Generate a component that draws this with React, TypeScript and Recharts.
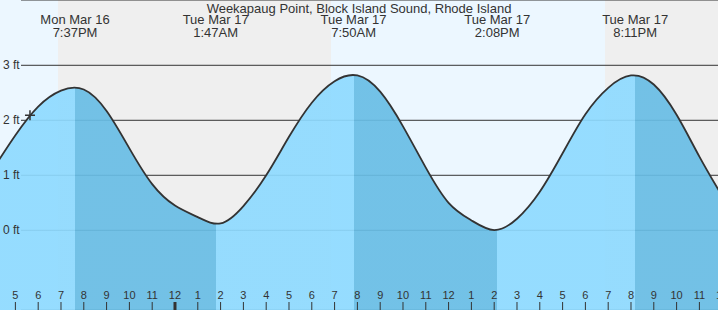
import {
  AreaChart,
  Area,
  XAxis,
  YAxis,
  CartesianGrid,
  ReferenceArea,
  ReferenceLine,
  ReferenceDot,
} from "recharts";

const W = 718;
const H = 310;
const FONT = "'Liberation Sans', Arial, sans-serif";

const COLORS = {
  ink: "#333",
  day: "#ecf7ff",
  night: "#efefef",
  rising: "#8edaff",
  falling: "#68bde5",
};

const TITLE = "Weekapaug Point, Block Island Sound, Rhode Island";

// hourly predictions, hours counted from Mon Mar 16 00:00
const TIDE_HOURS = [
  16, 17, 18, 19, 20, 21, 22, 23, 24, 25, 26,
  27, 28, 29, 30, 31, 32, 33, 34, 35, 36, 37,
  38, 39, 40, 41, 42, 43, 44, 45, 46, 47, 48,
];
const TIDE_FT = [
  1.1, 1.73, 2.25, 2.54, 2.56, 2.17, 1.49, 0.84, 0.45, 0.24, 0.125,
  0.44, 1.0, 1.7, 2.32, 2.71, 2.815, 2.52, 1.89, 1.14, 0.5, 0.18,
  0.005, 0.21, 0.7, 1.4, 2.11, 2.59, 2.815, 2.65, 2.1, 1.34, 0.62,
];

// high / low tide events (first one is a high)
const EVENT_HOURS = [19.617, 25.783, 31.833, 38.133, 44.183];
const EVENT_DAYS = ["Mon Mar 16", "Tue Mar 17", "Tue Mar 17", "Tue Mar 17", "Tue Mar 17"];
const EVENT_TIMES = ["7:37PM", "1:47AM", "7:50AM", "2:08PM", "8:11PM"];

const SUNSET_MON = 18.87;
const SUNRISE_TUE = 30.84;
const SUNSET_TUE = 42.86;

const NOW_HOUR = 17.64;
const NOW_FT = 2.09;

const X_DOMAIN: [number, number] = [16.325, 47.816];
const Y_DOMAIN: [number, number] = [-1.449, 4.187];
const FT_TICKS = [0, 1, 2, 3];
const HOUR_TICKS = [
  17, 18, 19, 20, 21, 22, 23, 24, 25, 26, 27, 28, 29, 30, 31, 32,
  33, 34, 35, 36, 37, 38, 39, 40, 41, 42, 43, 44, 45, 46, 47, 48,
];

const data = TIDE_HOURS.map((t, i) => ({ t, ft: TIDE_FT[i] }));

// hard-edged gradient: light while the tide rises, darker while it falls
function fillStops() {
  const t0 = TIDE_HOURS[0];
  const t1 = TIDE_HOURS[TIDE_HOURS.length - 1];
  const cuts = [0, ...EVENT_HOURS.map((h) => (h - t0) / (t1 - t0)), 1];
  const stops: JSX.Element[] = [];
  for (let i = 0; i < cuts.length - 1; i++) {
    const c = i % 2 === 0 ? COLORS.rising : COLORS.falling;
    stops.push(<stop key={`a${i}`} offset={cuts[i]} stopColor={c} stopOpacity={0.92} />);
    stops.push(<stop key={`b${i}`} offset={cuts[i + 1]} stopColor={c} stopOpacity={0.92} />);
  }
  return stops;
}

function HourTick({ x, payload }: any) {
  const h = payload.value as number;
  const label = h % 12 === 0 ? 12 : h % 12;
  const midnight = h % 24 === 0;
  return (
    <g>
      <text x={x} y={H - 11} textAnchor="middle" fontSize={11} fontFamily={FONT} fill={COLORS.ink}>
        {label}
      </text>
      <line x1={x} x2={x} y1={H - 8} y2={H} stroke={COLORS.ink} strokeWidth={midnight ? 3 : 1} />
    </g>
  );
}

function FtTick({ y, payload }: any) {
  return (
    <text x={3} y={y} dy={4} fontSize={12} fontFamily={FONT} fill={COLORS.ink}>
      {payload.value} ft
    </text>
  );
}

function EventLabel({ viewBox, day, time }: any) {
  const x = viewBox.x;
  return (
    <g fontFamily={FONT} fontSize={13} fill={COLORS.ink} textAnchor="middle">
      <text x={x} y={24}>{day}</text>
      <text x={x} y={36.5}>{time}</text>
    </g>
  );
}

function GridLine(p: any) {
  return <line key={p.key} x1={p.x1 + 21} x2={p.x2} y1={p.y1} y2={p.y2} stroke={COLORS.ink} strokeWidth={1} />;
}

export default function App() {
  return (
    <div style={{ position: "relative", width: W, height: H }}>
      <style>{"body{margin:0}"}</style>
      <AreaChart width={W} height={H} data={data} margin={{ top: 0, right: 0, bottom: 0, left: 0 }}>
        <defs>
          <linearGradient id="tideFill" x1="0" y1="0" x2="1" y2="0">
            {fillStops()}
          </linearGradient>
        </defs>
        <ReferenceArea x1={X_DOMAIN[0]} x2={SUNSET_MON} y1={Y_DOMAIN[0]} y2={Y_DOMAIN[1]} fill={COLORS.day} fillOpacity={1} stroke="none" zIndex={-200} />
        <ReferenceArea x1={SUNSET_MON} x2={SUNRISE_TUE} y1={Y_DOMAIN[0]} y2={Y_DOMAIN[1]} fill={COLORS.night} fillOpacity={1} stroke="none" zIndex={-200} />
        <ReferenceArea x1={SUNRISE_TUE} x2={SUNSET_TUE} y1={Y_DOMAIN[0]} y2={Y_DOMAIN[1]} fill={COLORS.day} fillOpacity={1} stroke="none" zIndex={-200} />
        <ReferenceArea x1={SUNSET_TUE} x2={X_DOMAIN[1]} y1={Y_DOMAIN[0]} y2={Y_DOMAIN[1]} fill={COLORS.night} fillOpacity={1} stroke="none" zIndex={-200} />
        <CartesianGrid vertical={false} horizontal={GridLine} />
        <Area
          type="natural"
          dataKey="ft"
          stroke={COLORS.ink}
          strokeWidth={1.8}
          fill="url(#tideFill)"
          fillOpacity={1}
          baseValue={Y_DOMAIN[0]}
          dot={false}
          activeDot={false}
          isAnimationActive={false}
        />
        {EVENT_HOURS.map((h, i) => (
          <ReferenceLine
            key={h}
            x={h}
            stroke="none"
            label={(p: any) => <EventLabel viewBox={p.viewBox} day={EVENT_DAYS[i]} time={EVENT_TIMES[i]} />}
          />
        ))}
        <ReferenceDot
          x={NOW_HOUR}
          y={NOW_FT}
          shape={(p: any) => (
            <path
              d={`M${p.cx - 5},${p.cy}h10M${p.cx},${p.cy - 5}v10`}
              stroke={COLORS.ink}
              strokeWidth={1.5}
              fill="none"
            />
          )}
        />
        <XAxis
          type="number"
          dataKey="t"
          domain={X_DOMAIN}
          allowDataOverflow
          ticks={HOUR_TICKS}
          interval={0}
          mirror
          tickLine={false}
          axisLine={false}
          tick={<HourTick />}
        />
        <YAxis
          domain={Y_DOMAIN}
          allowDataOverflow
          ticks={FT_TICKS}
          interval={0}
          mirror
          width={30}
          tickLine={false}
          axisLine={false}
          tick={<FtTick />}
        />
      </AreaChart>
      <div
        style={{
          position: "absolute",
          top: 1,
          left: 0,
          width: W,
          textAlign: "center",
          fontFamily: FONT,
          fontSize: 13,
          lineHeight: "15px",
          color: COLORS.ink,
        }}
      >
        {TITLE}
      </div>
    </div>
  );
}
